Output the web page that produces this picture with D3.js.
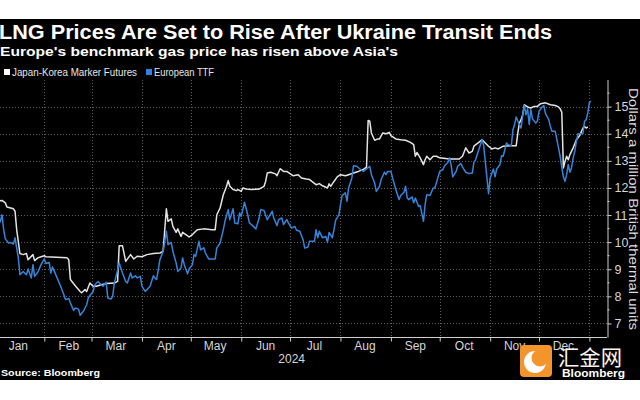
<!DOCTYPE html>
<html><head><meta charset="utf-8">
<script src="https://cdn.jsdelivr.net/npm/d3@7"></script>
<style>html,body{margin:0;padding:0;background:#fff;}svg{display:block}</style>
</head><body>
<svg id="c" width="640" height="400"></svg>
<script>
const title = "LNG Prices Are Set to Rise After Ukraine Transit Ends";
const subtitle = "Europe's benchmark gas price has risen above Asia's";
const seriesNames = ["Japan-Korea Marker Futures", "European TTF"];
const months = ["Jan","Feb","Mar","Apr","May","Jun","Jul","Aug","Sep","Oct","Nov","Dec"];
const yearLabel = "2024";
const yTicks = [7, 8, 9, 10, 11, 12, 13, 14, 15];
const yLabel = "Dollars a million British thermal units";
const sourceText = "Source: Bloomberg";

const jkmDates = ["2024-01-02","2024-01-06","2024-01-08","2024-01-09","2024-01-13","2024-01-14","2024-01-15","2024-01-17","2024-01-19","2024-01-21","2024-01-22","2024-01-25","2024-01-26","2024-01-28","2024-01-30",
"2024-02-01","2024-02-02","2024-02-15","2024-02-16","2024-02-17","2024-02-20","2024-02-23","2024-02-24","2024-02-26","2024-02-27","2024-02-29",
"2024-03-02","2024-03-04","2024-03-07","2024-03-10","2024-03-15","2024-03-17","2024-03-18","2024-03-20","2024-03-22","2024-03-25","2024-03-27","2024-03-29",
"2024-04-01","2024-04-04","2024-04-08","2024-04-12","2024-04-14","2024-04-15","2024-04-16","2024-04-17","2024-04-19","2024-04-20","2024-04-22","2024-04-23","2024-04-25","2024-04-26","2024-04-28","2024-04-30",
"2024-05-02","2024-05-05","2024-05-09","2024-05-14","2024-05-16","2024-05-17","2024-05-19","2024-05-21","2024-05-23","2024-05-24","2024-05-25","2024-05-27","2024-05-29","2024-05-30",
"2024-06-01","2024-06-02","2024-06-04","2024-06-07","2024-06-12","2024-06-15","2024-06-16","2024-06-17","2024-06-19","2024-06-22","2024-06-23","2024-06-24","2024-06-25","2024-06-27","2024-06-29",
"2024-07-01","2024-07-03","2024-07-06","2024-07-08","2024-07-11","2024-07-13","2024-07-17","2024-07-19","2024-07-21","2024-07-24","2024-07-25","2024-07-26","2024-07-28","2024-07-30",
"2024-08-01","2024-08-04","2024-08-06","2024-08-09","2024-08-12","2024-08-15","2024-08-17","2024-08-18","2024-08-19","2024-08-20","2024-08-22","2024-08-24","2024-08-25","2024-08-27","2024-08-29","2024-08-31",
"2024-09-01","2024-09-04","2024-09-07","2024-09-10","2024-09-13","2024-09-15","2024-09-16","2024-09-17","2024-09-19","2024-09-21","2024-09-22","2024-09-23","2024-09-25","2024-09-27","2024-09-29",
"2024-10-01","2024-10-07","2024-10-13","2024-10-15","2024-10-17","2024-10-19","2024-10-21","2024-10-22","2024-10-25","2024-10-27","2024-10-29","2024-10-31",
"2024-11-02","2024-11-04","2024-11-06","2024-11-09","2024-11-13","2024-11-17","2024-11-18","2024-11-19","2024-11-20","2024-11-21","2024-11-22","2024-11-24","2024-11-26","2024-11-28","2024-11-30",
"2024-12-02","2024-12-05","2024-12-08","2024-12-11","2024-12-13","2024-12-14","2024-12-15","2024-12-16","2024-12-17","2024-12-18","2024-12-19","2024-12-20","2024-12-22","2024-12-24","2024-12-26","2024-12-28","2024-12-29","2024-12-30","2024-12-31"];
const jkmValues = [11.50,11.54,11.45,11.30,11.23,11.14,10.46,9.58,9.54,9.58,9.35,9.54,9.32,9.42,9.46,
9.50,9.46,9.42,9.35,8.62,8.39,8.18,8.13,8.25,8.18,8.49,
8.37,8.37,8.43,8.47,8.49,8.55,9.87,9.87,9.29,9.54,9.38,9.48,
9.46,9.54,9.58,9.60,9.66,10.46,11.23,10.77,10.86,10.58,10.36,10.49,10.21,10.36,10.28,10.19,
10.28,10.46,10.49,10.46,10.46,11.01,11.26,11.75,12.06,12.27,12.06,11.94,11.90,11.94,
11.87,12.00,11.96,11.94,11.96,12.06,12.24,12.55,12.58,12.52,12.45,12.59,12.71,12.61,12.61,
12.53,12.45,12.49,12.37,12.33,12.31,12.12,12.16,12.08,12.00,12.15,12.06,12.24,12.41,
12.49,12.45,12.49,12.55,12.61,12.68,12.77,14.49,14.46,14.03,13.76,13.81,13.81,14.03,14.00,14.05,
13.93,13.81,13.78,13.76,13.68,13.60,13.17,13.31,13.11,12.86,13.04,13.17,13.04,13.17,13.17,
13.11,13.07,13.07,13.17,13.48,13.29,13.35,13.54,13.68,13.78,13.66,13.54,
13.44,13.48,13.44,13.54,13.56,13.56,14.03,14.40,14.52,14.70,15.07,14.99,14.95,15.01,15.01,
15.11,15.14,15.07,15.04,14.99,14.92,14.80,12.74,12.98,13.17,13.04,13.23,13.48,13.78,13.93,14.21,14.27,14.21,14.25];

const ttfDates = ["2024-01-02","2024-01-05","2024-01-06","2024-01-07","2024-01-08","2024-01-10","2024-01-11","2024-01-13","2024-01-14","2024-01-15","2024-01-16","2024-01-17","2024-01-19","2024-01-21","2024-01-22","2024-01-24","2024-01-25","2024-01-26","2024-01-28","2024-01-30",
"2024-02-01","2024-02-02","2024-02-04","2024-02-05","2024-02-06","2024-02-08","2024-02-11","2024-02-13","2024-02-14","2024-02-16","2024-02-17","2024-02-19","2024-02-20","2024-02-22","2024-02-23","2024-02-25","2024-02-27","2024-02-28","2024-02-29",
"2024-03-02","2024-03-03","2024-03-05","2024-03-07","2024-03-08","2024-03-10","2024-03-11","2024-03-13","2024-03-14","2024-03-15","2024-03-17","2024-03-18","2024-03-20","2024-03-22","2024-03-23","2024-03-25","2024-03-26","2024-03-28","2024-03-29","2024-03-31",
"2024-04-01","2024-04-03","2024-04-06","2024-04-08","2024-04-09","2024-04-10","2024-04-12","2024-04-14","2024-04-15","2024-04-16","2024-04-17","2024-04-19","2024-04-20","2024-04-22","2024-04-23","2024-04-25","2024-04-26","2024-04-27","2024-04-29","2024-04-30",
"2024-05-02","2024-05-03","2024-05-04","2024-05-06","2024-05-07","2024-05-09","2024-05-10","2024-05-12","2024-05-16","2024-05-17","2024-05-19","2024-05-21","2024-05-22","2024-05-24","2024-05-25","2024-05-27","2024-05-28","2024-05-30","2024-05-31",
"2024-06-01","2024-06-03","2024-06-05","2024-06-06","2024-06-08","2024-06-10","2024-06-12","2024-06-13","2024-06-15","2024-06-17","2024-06-18","2024-06-20","2024-06-21","2024-06-23","2024-06-24","2024-06-26","2024-06-27","2024-06-29","2024-06-30",
"2024-07-02","2024-07-04","2024-07-05","2024-07-07","2024-07-09","2024-07-10","2024-07-12","2024-07-13","2024-07-16","2024-07-17","2024-07-18","2024-07-19","2024-07-21","2024-07-23","2024-07-24","2024-07-25","2024-07-27","2024-07-28","2024-07-29","2024-07-31",
"2024-08-01","2024-08-02","2024-08-04","2024-08-05","2024-08-06","2024-08-08","2024-08-09","2024-08-11","2024-08-13","2024-08-15","2024-08-17","2024-08-19","2024-08-20","2024-08-22","2024-08-23","2024-08-25","2024-08-26","2024-08-28","2024-08-29","2024-08-30",
"2024-09-01","2024-09-02","2024-09-04","2024-09-06","2024-09-07","2024-09-09","2024-09-10","2024-09-11","2024-09-12","2024-09-14","2024-09-15","2024-09-16","2024-09-18","2024-09-19","2024-09-21","2024-09-22","2024-09-23","2024-09-25","2024-09-27","2024-09-28","2024-09-30",
"2024-10-01","2024-10-03","2024-10-04","2024-10-06","2024-10-07","2024-10-08","2024-10-09","2024-10-11","2024-10-12","2024-10-14","2024-10-15","2024-10-17","2024-10-19","2024-10-21","2024-10-22","2024-10-23","2024-10-25","2024-10-27","2024-10-28","2024-10-29","2024-10-30","2024-10-31",
"2024-11-01","2024-11-03","2024-11-04","2024-11-05","2024-11-07","2024-11-08","2024-11-09","2024-11-10","2024-11-11","2024-11-12","2024-11-14","2024-11-15","2024-11-16","2024-11-17","2024-11-18","2024-11-20","2024-11-21","2024-11-22","2024-11-23","2024-11-24","2024-11-25","2024-11-26","2024-11-27","2024-11-29","2024-11-30",
"2024-12-01","2024-12-03","2024-12-04","2024-12-05","2024-12-07","2024-12-08","2024-12-09","2024-12-11","2024-12-12","2024-12-13","2024-12-14","2024-12-15","2024-12-16","2024-12-17","2024-12-18","2024-12-19","2024-12-20","2024-12-21","2024-12-22","2024-12-23","2024-12-24","2024-12-25","2024-12-26","2024-12-28","2024-12-29","2024-12-30","2024-12-31",
"2025-01-01","2025-01-02"];
const ttfValues = [10.55,10.77,11.01,10.46,10.12,9.97,9.99,9.93,10.16,9.79,9.42,8.80,8.92,8.80,9.01,8.68,9.17,8.74,8.89,9.17,
9.38,9.21,9.25,8.86,9.08,8.80,8.37,8.06,7.88,7.92,7.76,7.48,7.57,7.53,7.30,7.45,7.69,7.94,8.03,
8.18,8.43,8.55,8.43,8.37,8.52,7.94,7.90,8.00,8.49,8.96,9.23,8.86,8.55,8.49,8.86,8.68,8.76,8.68,8.74,
8.37,8.18,8.37,8.76,8.67,8.62,9.35,9.66,10.03,10.40,9.91,9.99,9.66,9.23,8.92,9.05,9.42,9.17,8.83,9.01,
9.17,9.54,9.48,10.03,9.72,9.79,9.60,9.38,9.38,9.79,9.97,10.46,10.77,11.20,10.83,11.23,10.71,10.68,11.08,
10.95,11.47,11.01,10.71,10.61,10.49,10.89,11.20,11.17,10.83,10.93,11.14,10.89,10.61,10.83,10.89,10.65,10.83,10.71,
10.52,10.58,10.44,10.40,10.09,9.78,9.82,10.03,10.03,10.46,10.16,10.40,10.16,10.21,9.99,10.36,10.16,10.46,10.80,11.01,
11.38,11.72,11.82,11.51,12.00,12.37,12.82,12.80,12.70,12.61,12.70,12.80,12.49,12.18,11.87,12.06,12.31,12.58,12.49,12.61,
12.61,12.37,11.94,11.57,11.72,11.84,12.06,11.63,11.57,11.67,11.45,11.63,11.32,11.35,10.77,11.38,11.75,11.72,12.00,12.00,12.41,
12.61,12.68,12.82,12.94,13.11,12.85,12.41,12.60,12.80,12.90,12.77,12.58,12.53,12.55,12.94,13.04,13.41,13.78,13.56,12.98,12.37,11.79,
12.37,12.70,12.41,12.70,12.86,13.19,13.17,13.41,13.66,13.60,13.56,14.15,14.34,14.62,14.46,14.21,14.70,15.04,14.70,14.92,14.34,14.89,14.55,14.40,14.46,
14.83,14.99,15.04,14.74,14.52,14.27,14.09,14.09,13.78,13.48,13.17,12.77,12.41,12.24,12.49,12.86,12.58,12.74,13.11,13.35,13.72,14.00,14.00,14.00,14.46,14.52,14.77,
15.16,15.20];

const parse = d3.utcParse("%Y-%m-%d");
const jkm = jkmDates.map((d, i) => ({date: parse(d), v: jkmValues[i]}));
const ttf = ttfDates.map((d, i) => ({date: parse(d), v: ttfValues[i]}));

const svg = d3.select("#c");
const W = 640;
const plotLeft = 0, plotRight = 607, plotTop = 80, plotBottom = 337;
const font = "'Liberation Sans', Arial, sans-serif";

svg.append("rect").attr("x", 0).attr("y", 19).attr("width", W).attr("height", 361).attr("fill", "#000");

const x = d3.scaleUtc().domain([parse("2024-01-01"), parse("2025-01-11")]).range([-6.1, 605.7]);
const y = d3.scaleLinear().domain([6.5, 16]).range([plotBottom, 79.55]);

// grid
const monthBounds = d3.utcMonth.range(parse("2024-02-01"), parse("2025-01-02"));
const grid = svg.append("g").attr("stroke", "#5e5e5e").attr("stroke-width", 1).attr("stroke-dasharray", "1,2");
grid.selectAll("line.h").data(yTicks).join("line")
  .attr("x1", plotLeft).attr("x2", plotRight)
  .attr("y1", d => Math.round(y(d)) + 0.5).attr("y2", d => Math.round(y(d)) + 0.5);
grid.selectAll("line.v").data(monthBounds).join("line")
  .attr("x1", d => Math.round(x(d)) + 0.5).attr("x2", d => Math.round(x(d)) + 0.5)
  .attr("y1", plotTop).attr("y2", plotBottom);

// lines
svg.append("clipPath").attr("id", "clip").append("rect")
  .attr("x", 0).attr("y", plotTop - 5).attr("width", plotRight).attr("height", plotBottom - plotTop + 5);
const line = d3.line().x(d => x(d.date)).y(d => y(d.v));
const lines = svg.append("g").attr("clip-path", "url(#clip)").attr("fill", "none")
  .attr("stroke-linejoin", "round").attr("stroke-width", 1.5);
lines.append("path").datum(jkm).attr("d", line).attr("stroke", "#e4e4e4");
lines.append("path").datum(ttf).attr("d", line).attr("stroke", "#3683da");

// y axis (right)
const minor = d3.range(7.5, 16, 1);
const yAxis = d3.axisRight(y).tickValues(yTicks).tickSize(4).tickSizeOuter(0).tickPadding(3)
  .tickFormat(d3.format("d"));
const ya = svg.append("g").attr("transform", `translate(${plotRight + 0.5},0)`).call(yAxis);
ya.select(".domain").attr("stroke", "#cfcfcf");
ya.selectAll(".tick line").attr("stroke", "#cfcfcf");
ya.selectAll(".tick text").attr("fill", "#d6d6d6").attr("font-size", 12.5).attr("font-family", font);
ya.selectAll("line.minor").data(minor).join("line").attr("class", "minor")
  .attr("x1", 0).attr("x2", 2).attr("y1", d => y(d)).attr("y2", d => y(d)).attr("stroke", "#cfcfcf");

// x axis
const xAxis = d3.axisBottom(x).tickValues(monthBounds).tickSize(4).tickSizeOuter(0).tickFormat("");
const xa = svg.append("g").attr("transform", `translate(0,${plotBottom + 0.5})`).call(xAxis);
xa.select(".domain").attr("stroke", "#cfcfcf").attr("d", `M${plotLeft},0H${plotRight}`);
xa.selectAll(".tick line").attr("stroke", "#cfcfcf");
const monthMids = months.map((m, i) => new Date(Date.UTC(2024, i, 16)));
svg.append("g").selectAll("text").data(monthMids).join("text")
  .attr("x", d => x(d)).attr("y", 349.5).attr("text-anchor", "middle")
  .attr("fill", "#d6d6d6").attr("font-size", 12).attr("font-family", font)
  .text((d, i) => months[i]);
svg.append("text").attr("x", x(new Date(Date.UTC(2024, 6, 2)))).attr("y", 362.5).attr("text-anchor", "middle")
  .attr("fill", "#d6d6d6").attr("font-size", 12).attr("font-family", font).text(yearLabel);

// y label
svg.append("text").attr("transform", "translate(629,88) rotate(90)")
  .attr("fill", "#dcdcdc").attr("font-size", 13.5).attr("font-family", font)
  .attr("textLength", 242).attr("lengthAdjust", "spacingAndGlyphs").text(yLabel);

// titles
svg.append("text").attr("x", -1).attr("y", 38.5).attr("fill", "#fff").attr("font-weight", "bold")
  .attr("font-size", 19.5).attr("font-family", font)
  .attr("textLength", 553).attr("lengthAdjust", "spacingAndGlyphs").text(title);
svg.append("text").attr("x", 0).attr("y", 56).attr("fill", "#fff").attr("font-weight", "bold")
  .attr("font-size", 13.5).attr("font-family", font)
  .attr("textLength", 398).attr("lengthAdjust", "spacingAndGlyphs").text(subtitle);

// legend
const legendColors = ["#ffffff", "#2f80e0"];
const legendX = [4, 146];
const legendW = [125, 60];
const lg = svg.append("g");
seriesNames.forEach((n, i) => {
  lg.append("rect").attr("x", legendX[i]).attr("y", 69).attr("width", 6).attr("height", 6).attr("fill", legendColors[i]);
  lg.append("text").attr("x", legendX[i] + 8).attr("y", 75.5).attr("fill", "#e6e6e6")
    .attr("font-size", 10).attr("font-family", font)
    .attr("textLength", legendW[i]).attr("lengthAdjust", "spacingAndGlyphs").text(n);
});

// source
svg.append("text").attr("x", 1).attr("y", 376).attr("fill", "#fff").attr("font-weight", "bold")
  .attr("font-size", 9.5).attr("font-family", font)
  .attr("textLength", 99).attr("lengthAdjust", "spacingAndGlyphs").text(sourceText);

// watermark
const wm = svg.append("g");
wm.append("rect").attr("x", 520).attr("y", 345).attr("width", 32).attr("height", 32).attr("rx", 4).attr("fill", "#f3952a");
wm.append("circle").attr("cx", 535).attr("cy", 362).attr("r", 11).attr("fill", "#fff");
wm.append("circle").attr("cx", 540).attr("cy", 358).attr("r", 8.5).attr("fill", "#f3952a");
wm.append("text").attr("x", 558).attr("y", 365).attr("fill", "#fbf4ea").attr("font-size", 21)
  .attr("font-family", "'Noto Sans CJK SC', sans-serif").attr("textLength", 64).attr("lengthAdjust", "spacingAndGlyphs").text("汇金网");
wm.append("text").attr("x", 562).attr("y", 377).attr("fill", "#fff").attr("font-size", 10.5).attr("font-weight", "bold")
  .attr("font-family", font).attr("textLength", 63).attr("lengthAdjust", "spacingAndGlyphs").text("Bloomberg");
</script>
</body></html>
